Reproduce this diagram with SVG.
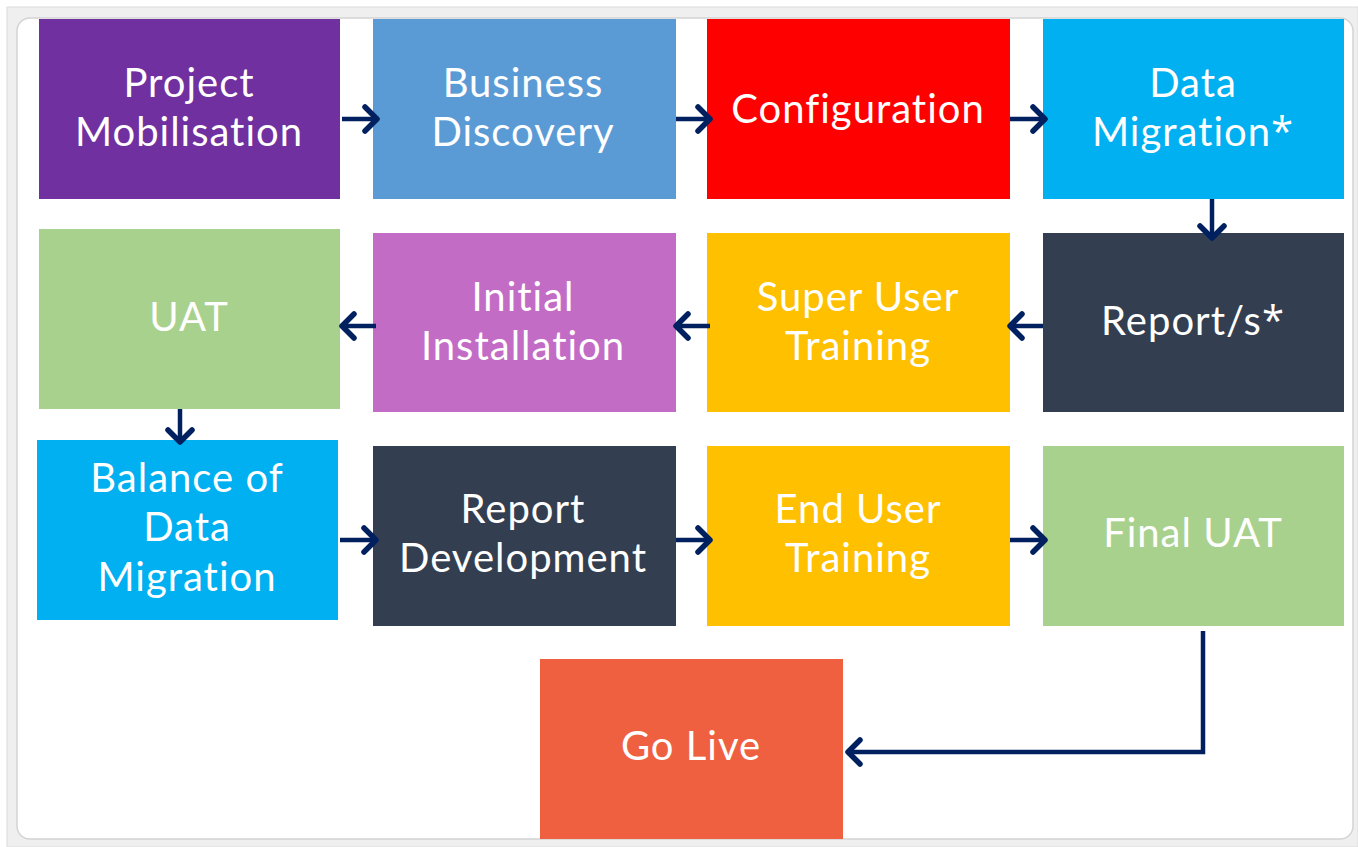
<svg xmlns="http://www.w3.org/2000/svg" width="1358" height="847" viewBox="0 0 1358 847">
<style>
.box text{fill:#ffffff;font-family:Lato,"Open Sans",sans-serif;font-size:40px;letter-spacing:1px;text-anchor:middle}
.ast{font-family:"Open Sans","Noto Sans",sans-serif}
.conn{fill:none;stroke:#002060;stroke-width:4.5}
</style>
<defs>
<marker id="ah" markerUnits="userSpaceOnUse" markerWidth="30" markerHeight="30" refX="20" refY="15" orient="auto" viewBox="0 0 30 30">
<polyline points="8,3 20,15 8,27" fill="none" stroke="#002060" stroke-width="5.5" stroke-linecap="round" stroke-linejoin="round"/>
</marker>
</defs>
<rect x="0" y="0" width="1358" height="847" fill="#ffffff"/>
<rect x="7" y="7" width="1351" height="840" fill="#efefef" stroke="#dcdcdc" stroke-width="1"/>
<rect x="17" y="18" width="1336" height="821" rx="13" fill="#ffffff" stroke="#d4d4d4" stroke-width="1.5"/>

<g id="n1" class="box"><rect x="39" y="19" width="301" height="180" fill="#7030a0"/><text x="189" y="97">Project</text><text x="189" y="146">Mobilisation</text></g>
<g id="n2" class="box"><rect x="373" y="19" width="303" height="180" fill="#5b9bd5"/><text x="523" y="97">Business</text><text x="523" y="146">Discovery</text></g>
<g id="n3" class="box"><rect x="707" y="19" width="303" height="180" fill="#ff0000"/><text x="858" y="123">Configuration</text></g>
<g id="n4" class="box"><rect x="1043" y="19" width="301" height="180" fill="#00b0f0"/><text x="1193" y="97">Data</text><text x="1193" y="146">Migration<tspan class="ast">*</tspan></text></g>

<g id="n5" class="box"><rect x="39" y="229" width="301" height="180" fill="#a9d18e"/><text x="189" y="331">UAT</text></g>
<g id="n6" class="box"><rect x="373" y="233" width="303" height="179" fill="#c36cc6"/><text x="523" y="311">Initial</text><text x="523" y="360">Installation</text></g>
<g id="n7" class="box"><rect x="707" y="233" width="303" height="179" fill="#ffc000"/><text x="858" y="311">Super User</text><text x="858" y="360">Training</text></g>
<g id="n8" class="box"><rect x="1043" y="233" width="301" height="179" fill="#333f50"/><text x="1193" y="335">Report/s<tspan class="ast">*</tspan></text></g>

<g id="n9" class="box"><rect x="37" y="440" width="301" height="180" fill="#00b0f0"/><text x="187" y="492">Balance of</text><text x="187" y="541">Data</text><text x="187" y="591">Migration</text></g>
<g id="n10" class="box"><rect x="373" y="446" width="303" height="180" fill="#333f50"/><text x="523" y="523">Report</text><text x="523" y="572">Development</text></g>
<g id="n11" class="box"><rect x="707" y="446" width="303" height="180" fill="#ffc000"/><text x="858" y="523">End User</text><text x="858" y="572">Training</text></g>
<g id="n12" class="box"><rect x="1043" y="446" width="301" height="180" fill="#a9d18e"/><text x="1193" y="547">Final UAT</text></g>

<g id="n13" class="box"><rect x="540" y="659" width="303" height="180" fill="#ef6041"/><text x="691" y="760">Go Live</text></g>

<g id="connectors">
<line class="conn" x1="342" y1="119" x2="377" y2="119" marker-end="url(#ah)"/>
<line class="conn" x1="676" y1="119" x2="710" y2="119" marker-end="url(#ah)"/>
<line class="conn" x1="1010" y1="119" x2="1045" y2="119" marker-end="url(#ah)"/>
<line class="conn" x1="1212" y1="199" x2="1212" y2="238" marker-end="url(#ah)"/>
<line class="conn" x1="1043" y1="326" x2="1010" y2="326" marker-end="url(#ah)"/>
<line class="conn" x1="710" y1="326" x2="676" y2="326" marker-end="url(#ah)"/>
<line class="conn" x1="376" y1="326" x2="342" y2="326" marker-end="url(#ah)"/>
<line class="conn" x1="180" y1="409" x2="180" y2="442" marker-end="url(#ah)"/>
<line class="conn" x1="340" y1="540" x2="376" y2="540" marker-end="url(#ah)"/>
<line class="conn" x1="676" y1="540" x2="710" y2="540" marker-end="url(#ah)"/>
<line class="conn" x1="1010" y1="540" x2="1045" y2="540" marker-end="url(#ah)"/>
<polyline class="conn" points="1203,631 1203,752 848,752" marker-end="url(#ah)"/>
</g>
</svg>
